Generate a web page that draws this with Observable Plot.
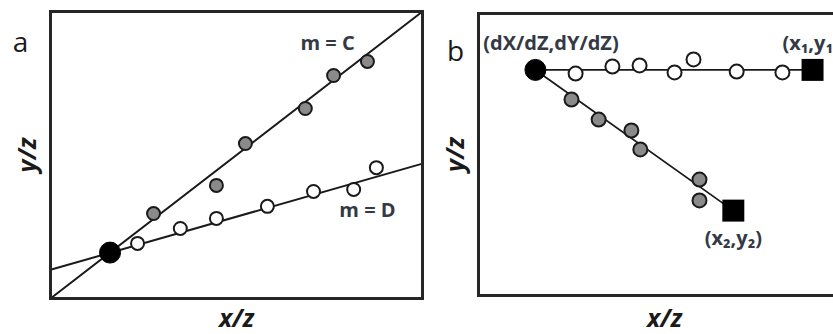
<!DOCTYPE html>
<html>
<head>
<meta charset="utf-8">
<script src="https://cdn.jsdelivr.net/npm/d3@7"></script>
<script src="https://cdn.jsdelivr.net/npm/@observablehq/plot@0.6"></script>
<style>
  html, body { margin: 0; padding: 0; background: #fff; overflow: hidden; }
  #wrap { position: relative; width: 833px; height: 334px; overflow: hidden; }
  #pa, #pb { position: absolute; top: 0; width: 440px; height: 334px; }
  #pa { left: 0; }
  #pb { left: 440px; }
  #wrap svg { max-width: none !important; overflow: visible; }
</style>
</head>
<body>
<div id="wrap"><div id="pa"></div><div id="pb"></div></div>
<script>
// Panel a: two mixing lines through a common end-member
const aOriginX = [1.6];
const aOriginY = [1.6];
const aGrayX = [2.77, 4.46, 5.24, 6.85, 7.61, 8.52];
const aGrayY = [2.96, 3.94, 5.40, 6.62, 7.77, 8.26];
const aWhiteX = [2.34, 3.49, 4.46, 5.83, 7.07, 8.15, 8.76];
const aWhiteY = [1.92, 2.44, 2.79, 3.21, 3.73, 3.80, 4.56];
const lineCX = [0, 10];
const lineCY = [0, 10];
const lineDX = [0, 10];
const lineDY = [1.0, 4.7];
const slopeLabels = ["m = C", "m = D"];
const slopeLabelX = [7.45, 8.52];
const slopeLabelY = [8.89, 3.07];

// Panel b: two trajectories leaving the same origin toward two end points
const bOriginX = [1.53];
const bOriginY = [8.0];
const bEndX = [8.98, 6.85];
const bEndY = [8.0, 3.01];
const bWhiteX = [2.61, 3.60, 4.33, 5.27, 5.78, 6.94, 8.17];
const bWhiteY = [7.87, 8.12, 8.16, 7.91, 8.37, 7.94, 7.91];
const bGrayX = [2.50, 3.23, 4.11, 4.35, 5.94, 5.94];
const bGrayY = [6.95, 6.24, 5.85, 5.18, 4.11, 3.37];
const pointLabels = ["(dX/dZ,dY/dZ)", "(x\u2081,y\u2081)", "(x\u2082,y\u2082)"];
const pointLabelX = [0.13, 8.17, 6.85];
const pointLabelY = [8.94, 8.94, 2.02];

const zip = (xs, ys) => xs.map((x, i) => ({x, y: ys[i]}));
const ink = "#1a1a1a";
const labelInk = "#333a45";
const font = "'Open Sans', 'DejaVu Sans', sans-serif";

function frameAndLabels(letter, letterDx, letterDy, yDx, xDy) {
  return [
    Plot.frame({stroke: "#262626", strokeWidth: 3}),
    Plot.text([letter], {frameAnchor: "top-left", dx: letterDx, dy: letterDy, textAnchor: "middle",
      lineAnchor: "middle", fontSize: 28, fontFamily: font, fill: ink}),
    Plot.text(["y/z"], {frameAnchor: "left", dx: yDx, rotate: -90, textAnchor: "middle", lineAnchor: "middle",
      fontSize: 25, fontWeight: "bold", fontStyle: "italic", fontFamily: font, fill: ink}),
    Plot.text(["x/z"], {frameAnchor: "bottom", dy: xDy, textAnchor: "middle", lineAnchor: "middle",
      fontSize: 25, fontWeight: "bold", fontStyle: "italic", fontFamily: font, fill: ink})
  ];
}

const chartA = Plot.plot({
  width: 440, height: 334,
  marginLeft: 50, marginRight: 18, marginTop: 11, marginBottom: 36,
  x: {domain: [0, 10], axis: null},
  y: {domain: [0, 10], axis: null},
  marks: [
    Plot.line(zip(lineCX, lineCY), {x: "x", y: "y", stroke: ink, strokeWidth: 2}),
    Plot.line(zip(lineDX, lineDY), {x: "x", y: "y", stroke: ink, strokeWidth: 2}),
    Plot.dot(zip(aGrayX, aGrayY), {x: "x", y: "y", r: 6.5, fill: "#8a8a8a", stroke: ink, strokeWidth: 2}),
    Plot.dot(zip(aWhiteX, aWhiteY), {x: "x", y: "y", r: 6.5, fill: "#fff", stroke: ink, strokeWidth: 2}),
    Plot.dot(zip(aOriginX, aOriginY), {x: "x", y: "y", r: 10.5, fill: "#000", stroke: "#000", strokeWidth: 1}),
    Plot.text(slopeLabels.map((t, i) => ({t, x: slopeLabelX[i], y: slopeLabelY[i]})),
      {x: "x", y: "y", text: "t", fontSize: 20, fontWeight: 700, fontFamily: font, fill: labelInk}),
    ...frameAndLabels("a", -30, 32, -23, 20)
  ]
});

const labelRows = pointLabels.map((t, i) => ({t, x: pointLabelX[i], y: pointLabelY[i]}));

const chartB = Plot.plot({
  width: 440, height: 334,
  marginLeft: 38, marginRight: 30, marginTop: 13, marginBottom: 39,
  x: {domain: [0, 10], axis: null},
  y: {domain: [0, 10], axis: null},
  marks: [
    Plot.line([{x: bOriginX[0], y: bOriginY[0]}, {x: bEndX[0], y: bEndY[0]}], {x: "x", y: "y", stroke: ink, strokeWidth: 1.8}),
    Plot.line([{x: bOriginX[0], y: bOriginY[0]}, {x: bEndX[1], y: bEndY[1]}], {x: "x", y: "y", stroke: ink, strokeWidth: 1.8}),
    Plot.dot(zip(bGrayX, bGrayY), {x: "x", y: "y", r: 7, fill: "#8a8a8a", stroke: ink, strokeWidth: 2}),
    Plot.dot(zip(bWhiteX, bWhiteY), {x: "x", y: "y", r: 7, fill: "#fff", stroke: ink, strokeWidth: 2}),
    Plot.dot(zip(bEndX, bEndY), {x: "x", y: "y", symbol: "square", r: 12.4, fill: "#000", stroke: "none"}),
    Plot.dot(zip(bOriginX, bOriginY), {x: "x", y: "y", r: 10.5, fill: "#000", stroke: "#000", strokeWidth: 1}),
    Plot.text(labelRows.slice(0, 2), {x: "x", y: "y", text: "t", textAnchor: "start",
      fontSize: 20, fontWeight: 700, fontFamily: font, fill: labelInk}),
    Plot.text(labelRows.slice(2), {x: "x", y: "y", text: "t", textAnchor: "middle",
      fontSize: 20, fontWeight: 700, fontFamily: font, fill: labelInk}),
    ...frameAndLabels("b", -23, 39, -23, 23)
  ]
});

document.getElementById("pa").append(chartA);
document.getElementById("pb").append(chartB);
</script>
</body>
</html>
